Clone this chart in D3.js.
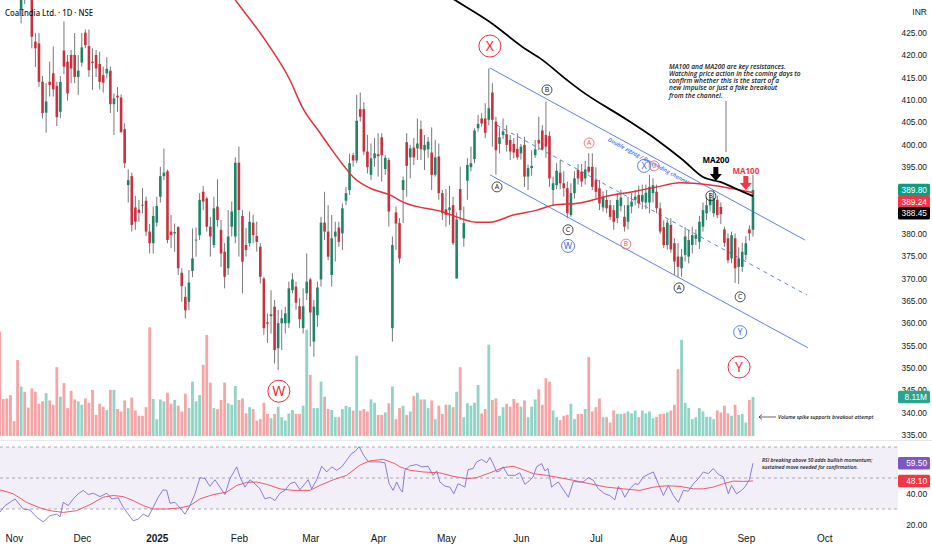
<!DOCTYPE html>
<html>
<head>
<meta charset="utf-8">
<script src="https://cdn.jsdelivr.net/npm/d3@7"></script>
<style>
  body { margin: 0; background: #fff; }
  svg { display: block; font-family: "Liberation Sans", "Noto Sans", sans-serif; }
</style>
</head>
<body>
<div id="chart"></div>
<script>
'use strict';

// daily candles [open, high, low, close], bar 0 = 28 Oct 2024
const ohlc = [
  // Oct
  [447, 451, 443, 445], [445, 448, 440, 442], [442, 446, 438, 440], [440, 444, 436, 438],
  // Nov
  [438, 441, 433.5, 436], [436, 439, 433, 435], [430.1, 436, 427.1, 434], [438, 439, 431.4, 434],
  [437, 439, 432.6, 434], [434, 435, 421.5, 424.1], [423.0, 424.9, 417.3, 421.5], [422.6, 424.9, 412.9, 414.0],
  [414.0, 415.3, 405.8, 407.0], [407.1, 413.7, 402.6, 409.6], [414.0, 418.5, 410.7, 413.3], [415.9, 421.9, 410.7, 412.3],
  [413.1, 414.0, 404.1, 406.1], [407.3, 415.3, 405.9, 414.0], [421.0, 427.5, 415.7, 417.4], [418.5, 420.0, 409.8, 411.4],
  [420.0, 421.1, 413.7, 417.0], [420.0, 424.9, 413.7, 415.1], [415.1, 420.0, 411.1, 416.5],
  // Dec
  [418.3, 424.9, 417.4, 421.7], [425.0, 425.7, 421.5, 422.2], [422.0, 425.7, 415.1, 416.6], [418.5, 421.5, 412.2, 418.2],
  [420.0, 421.1, 415.1, 417.0], [418.0, 420.7, 412.3, 414.0], [415.5, 417.4, 411.6, 413.8], [415.9, 419.5, 414.8, 416.9],
  [416.5, 417.4, 407.0, 409.0], [409.0, 411.4, 402.1, 410.3], [410.9, 412.8, 407.3, 410.5], [410.5, 411.2, 402.5, 402.8],
  [403.4, 404.7, 394.7, 395.8], [390.9, 394.4, 387.0, 392.0], [392.9, 393.7, 380.5, 382.0], [385.9, 388.5, 380.9, 382.7],
  [385.4, 387.6, 382.7, 384.7], [386.5, 390.2, 384.6, 386.3], [387.4, 388.3, 379.5, 380.5], [380.5, 382.2, 375.6, 377.9],
  [377.9, 386.1, 375.6, 384.0],
  // Jan
  [382.5, 388.3, 381.6, 386.2], [388.3, 395.0, 387.0, 392.9], [392.9, 399.1, 392.0, 393.7], [394.0, 394.4, 377.9, 378.6],
  [380.5, 384.2, 376.8, 379.7], [380.1, 382.3, 376.0, 380.4], [381.5, 381.7, 370.8, 372.3], [371.3, 372.3, 364.8, 368.3],
  [365.9, 368.2, 361.1, 362.9], [364.8, 371.9, 362.9, 369.1], [371.7, 381.2, 370.3, 374.5], [378.5, 381.4, 374.9, 378.7],
  [379.7, 389.1, 378.6, 387.6], [389.4, 390.7, 385.3, 387.2], [387.9, 388.3, 380.5, 381.6], [381.6, 383.8, 374.9, 379.4],
  [377.5, 388.3, 376.8, 385.7], [386.1, 392.2, 381.6, 383.1], [380.9, 383.1, 372.6, 375.6], [376.0, 377.9, 367.8, 370.4],
  [372.3, 385.3, 370.8, 379.4], [381.6, 387.2, 379.4, 385.0], [379.4, 397.1, 377.9, 395.9],
  // Feb
  [395.9, 399.5, 374.9, 385.3], [384.0, 385.3, 366.7, 373.8], [377.5, 381.3, 374.9, 376.4], [377.9, 385.0, 377.1, 382.7],
  [382.5, 384.3, 377.9, 379.7], [379.5, 382.7, 376.0, 378.2], [377.1, 377.9, 368.9, 370.4], [370.0, 370.4, 357.4, 358.9],
  [360.2, 362.2, 355.6, 359.9], [361.6, 367.4, 357.7, 362.0], [363.7, 365.2, 351.0, 354.0], [354.4, 363.0, 349.5, 360.0],
  [360.0, 363.0, 354.0, 361.1], [360.0, 363.7, 357.7, 362.2], [360.0, 369.3, 358.9, 367.8], [367.4, 371.2, 366.7, 369.8],
  [368.2, 369.3, 363.0, 364.6], [363.8, 365.6, 358.9, 360.9], [358.9, 367.8, 357.7, 363.8], [366.7, 375.6, 365.2, 369.3],
  // Mar
  [369.8, 370.2, 354.8, 362.4], [355.9, 365.2, 352.5, 363.7], [361.8, 369.3, 359.2, 368.0], [369.8, 383.8, 368.2, 382.5],
  [382.5, 389.4, 378.6, 380.5], [380.5, 386.4, 374.1, 374.9], [370.8, 384.2, 368.2, 379.0], [379.4, 382.7, 373.8, 380.5],
  [381.4, 382.7, 377.1, 378.2], [380.1, 386.8, 376.4, 385.7], [387.4, 390.5, 386.4, 389.1], [389.8, 397.9, 388.7, 395.8],
  [397.6, 398.1, 395.0, 396.4], [396.4, 411.1, 395.8, 405.3], [407.9, 411.6, 405.1, 406.2], [407.9, 409.4, 397.6, 398.4],
  [398.4, 402.1, 393.5, 394.9], [393.2, 400.2, 392.0, 396.9], [396.9, 401.4, 395.0, 398.0],
  // Apr
  [397.8, 402.5, 392.8, 397.4], [401.6, 402.5, 391.7, 397.6], [394.5, 397.6, 393.2, 397.0], [396.5, 397.0, 381.6, 385.0],
  [358.9, 379.4, 355.9, 377.5], [384.8, 386.1, 376.4, 382.3], [382.4, 383.5, 373.4, 374.5], [389.8, 392.8, 382.4, 392.0],
  [400.5, 402.5, 388.3, 395.2], [397.1, 399.9, 392.4, 399.1], [399.3, 401.4, 395.4, 397.1], [399.1, 405.8, 396.5, 400.2],
  [403.4, 405.3, 396.5, 398.9], [398.7, 402.1, 394.3, 399.9], [398.9, 401.6, 397.0, 400.6], [398.2, 403.8, 389.8, 393.2],
  [393.2, 401.0, 392.8, 397.1], [397.3, 400.2, 387.6, 389.1], [389.1, 389.8, 383.1, 384.6],
  // May
  [385.5, 390.0, 381.6, 384.2], [385.3, 390.7, 382.0, 385.9], [386.4, 388.3, 377.5, 377.9], [370.0, 384.8, 370.0, 383.2],
  [390.0, 395.0, 383.1, 385.3], [379.0, 386.1, 377.1, 382.4], [391.9, 396.9, 387.6, 395.4], [394.9, 399.5, 394.0, 395.8],
  [396.7, 403.6, 395.8, 403.1], [403.6, 406.6, 402.9, 404.6], [405.8, 407.0, 404.0, 404.7], [405.8, 409.2, 401.4, 402.6],
  [405.5, 417.0, 404.3, 408.1], [411.6, 413.7, 399.5, 405.5], [405.1, 406.2, 393.2, 398.7], [400.1, 403.8, 398.0, 401.6],
  [402.1, 405.8, 401.2, 402.9], [402.3, 404.3, 398.4, 399.9], [401.0, 402.1, 396.5, 398.4], [400.1, 401.4, 396.9, 398.2],
  [399.0, 402.5, 396.6, 397.1],
  // Jun
  [398.0, 400.1, 396.6, 399.5], [399.9, 401.7, 390.5, 392.8], [392.8, 395.5, 389.8, 394.7], [394.7, 398.7, 393.0, 395.2],
  [397.6, 401.0, 397.0, 398.9], [401.0, 406.2, 398.7, 400.2], [403.1, 404.3, 398.7, 398.9], [402.1, 409.6, 397.0, 399.5],
  [401.9, 402.9, 390.5, 392.4], [389.8, 392.8, 386.4, 391.3], [390.9, 395.8, 390.0, 394.1], [393.7, 396.5, 390.0, 391.3],
  [391.3, 394.0, 388.3, 390.2], [390.2, 391.7, 383.5, 384.6], [384.2, 391.3, 383.8, 389.1], [389.1, 394.0, 387.9, 392.4],
  [394.3, 395.6, 391.0, 392.4], [393.9, 395.6, 390.5, 391.7], [392.4, 396.3, 391.0, 394.4], [395.0, 398.0, 393.5, 393.9],
  [395.0, 398.0, 389.8, 390.5],
  // Jul
  [392.0, 394.9, 388.0, 389.4], [390.2, 392.0, 385.3, 386.8], [385.9, 389.5, 385.0, 388.3], [387.6, 389.8, 384.6, 385.7],
  [386.4, 387.6, 383.1, 383.8], [385.3, 386.4, 380.9, 382.7], [383.5, 389.1, 382.4, 387.6], [386.2, 389.9, 385.0, 388.1],
  [383.8, 386.4, 380.5, 381.6], [382.7, 388.3, 381.0, 386.4], [386.1, 389.1, 384.6, 387.2], [387.6, 389.8, 386.4, 388.3],
  [388.7, 390.8, 385.7, 386.8], [387.2, 391.0, 385.5, 388.7], [387.0, 391.0, 385.5, 389.2], [387.0, 393.2, 384.6, 390.5],
  [389.1, 392.4, 387.0, 390.9], [389.4, 391.0, 384.6, 385.7], [385.7, 387.0, 380.0, 380.5], [381.5, 383.0, 376.8, 377.5],
  [377.5, 383.2, 376.5, 382.5], [382.0, 383.5, 375.8, 376.5], [377.9, 379.0, 370.8, 373.8],
  // Aug
  [374.9, 377.9, 370.4, 372.6], [372.3, 376.6, 370.4, 374.9], [375.3, 381.5, 373.8, 379.4], [374.9, 380.9, 373.4, 378.6],
  [377.5, 381.6, 375.6, 379.7], [378.9, 381.0, 377.5, 379.7], [378.2, 384.0, 376.6, 382.7], [381.6, 387.0, 380.5, 385.3],
  [384.6, 388.3, 383.1, 386.4], [386.4, 389.1, 385.0, 387.9], [384.6, 389.8, 383.8, 388.0], [387.6, 388.5, 383.5, 384.2],
  [386.0, 387.0, 382.2, 384.4], [381.0, 381.6, 377.1, 378.0], [379.0, 380.1, 373.4, 374.1], [374.5, 380.5, 373.4, 379.7],
  [379.0, 380.1, 369.0, 372.3], [372.6, 377.0, 368.8, 374.5], [372.6, 378.0, 371.5, 376.0],
  // Sep
  [375.3, 379.5, 374.1, 377.9], [381.0, 381.9, 378.5, 380.1], [380.9, 393.2, 379.4, 389.8]
];

// volume per bar, millions
const volume = [
  21.7, 7.7, 7.8, 8.5, 3.1, 15.8, 10.3, 9.2, 5.9, 9.9,
  9.2, 6.7, 7.2, 8.9, 7.4, 6.5, 14.3, 8.2, 11.0, 5.8,
  9.4, 7.6, 7.2, 6.5, 7.8, 6.9, 9.6, 4.4, 6.7, 6.1,
  5.4, 9.6, 9.6, 5.6, 5.1, 7.4, 5.8, 8.0, 5.3, 4.2,
  4.2, 6.0, 22.6, 7.7, 3.5, 7.6, 7.2, 9.0, 6.7, 7.5,
  6.3, 5.1, 8.8, 5.8, 11.3, 7.2, 8.5, 14.8, 21.0, 11.1,
  5.8, 5.6, 7.5, 11.1, 6.8, 6.5, 10.4, 7.5, 7.8, 4.7,
  6.0, 5.6, 3.2, 3.5, 6.9, 4.6, 3.7, 4.6, 6.1, 3.9,
  3.2, 4.7, 5.4, 4.6, 4.6, 6.3, 22.1, 12.7, 5.8, 5.8,
  11.3, 8.2, 5.6, 5.4, 3.9, 3.9, 5.6, 6.3, 6.0, 5.3,
  16.7, 5.3, 5.6, 5.1, 7.6, 6.9, 4.4, 4.4, 4.9, 6.8,
  10.3, 3.5, 5.8, 6.3, 4.4, 5.1, 8.3, 9.0, 7.6, 7.6,
  5.8, 7.4, 3.5, 6.3, 4.6, 6.5, 6.5, 6.0, 9.2, 14.3,
  3.9, 6.8, 6.3, 6.9, 10.6, 4.7, 5.6, 19.0, 7.5, 7.8,
  4.2, 6.0, 6.7, 6.1, 7.7, 6.9, 6.1, 7.4, 3.9, 6.1,
  7.6, 9.7, 6.5, 12.0, 11.3, 5.3, 3.9, 3.3, 4.2, 4.4,
  6.7, 3.5, 4.6, 4.6, 5.6, 16.4, 5.1, 6.0, 7.8, 3.9,
  3.9, 2.8, 5.3, 4.6, 4.6, 4.7, 5.1, 4.7, 5.3, 3.9,
  5.3, 4.7, 5.1, 3.7, 4.0, 4.6, 4.6, 4.9, 5.3, 6.5,
  13.9, 20.0, 6.9, 5.8, 3.5, 3.9, 5.8, 5.1, 4.0, 4.0,
  3.5, 5.3, 4.9, 6.3, 4.7, 4.2, 6.5, 4.4, 4.6, 2.8,
  7.5, 8.11
];

// moving averages: [bar, value]
const ma100 = [
  [60, 438.8], [66, 432.3], [74.9, 422.7], [81.3, 414.4], [84.7, 408.4], [89.7, 402.6],
  [92.5, 399.4], [97.3, 394.3], [99, 392.7], [103.5, 390.3], [109.3, 388.7], [113, 387.1],
  [124.2, 384.9], [133.7, 382.6], [137.3, 382.6], [143.8, 384.2], [150.5, 385.3], [155, 386.4],
  [162.5, 386.9], [169, 388.2], [178.5, 389.6], [184.1, 390.5], [190.6, 391.4], [199, 390.9],
  [204.6, 390.2], [211, 389.24]
];
const ma200 = [
  [121, 435.5], [127.5, 432.3], [137.3, 427.4], [147.7, 421.1], [151.3, 419.3], [158.9, 414.4],
  [162.5, 412.2], [175.7, 405.5], [184.1, 401.0], [191.4, 396.5], [197, 392.7], [201.8, 391.6],
  [208.2, 389.4], [211, 388.45]
];

// RSI(14) and its moving average: [bar, value]
const rsi = [
  [0, 27.8], [1.5, 32.2], [4.3, 36.5], [6.6, 30.0], [8.5, 29.3], [10.4, 24.6], [12.2, 21.7],
  [14.1, 25.7], [16, 26.7], [16.9, 25.0], [17.8, 34.3], [19.2, 32.2], [20.6, 36.5], [22, 39.8],
  [23.4, 42.0], [24.8, 39.3], [26.2, 40.2], [28.1, 38.0], [30, 40.2], [31.4, 36.5], [33.2, 37.2],
  [34.6, 31.1], [36, 26.7], [37.4, 22.4], [38.8, 23.5], [40.2, 26.7], [41.6, 25.0], [43, 31.1],
  [44.4, 37.6], [45.8, 42.4], [46.8, 42.0], [47.7, 33.7], [49.1, 34.3], [50.5, 30.7], [51.9, 26.7],
  [53.3, 32.2], [54.7, 39.8], [56.1, 50.2], [57.5, 49.6], [58.9, 44.6], [60.3, 48.9], [61.7, 44.1],
  [63.1, 39.3], [64.5, 49.6], [66.4, 57.2], [67.3, 50.7], [68.7, 44.1], [70.1, 48.9], [71.5, 46.3],
  [72.9, 43.0], [74.3, 36.5], [75.7, 37.6], [77.1, 35.4], [78.5, 40.2], [79.9, 42.0], [81.3, 46.3],
  [82.7, 47.4], [84.1, 42.4], [85.5, 46.3], [86.4, 48.9], [87.4, 43.0], [88.8, 48.9], [90.2, 57.6],
  [91.6, 53.9], [93, 57.2], [94.4, 55.0], [95.8, 57.2], [97.2, 61.5], [98.6, 65.9], [99.5, 67.0],
  [100.7, 70.2], [101.9, 64.8], [103.3, 60.4], [104.7, 60.4], [106.5, 60.4], [107.9, 59.8],
  [109.1, 46.3], [110.2, 42.0], [111.2, 47.4], [112.1, 43.0], [112.8, 40.9], [113.5, 55.0],
  [114.9, 57.8], [116.8, 58.7], [118.2, 57.2], [120, 57.6], [121.4, 51.7], [122.4, 54.6],
  [123.3, 47.4], [124.7, 44.8], [126.1, 44.1], [127.2, 39.8], [128.4, 46.3], [129.4, 45.2],
  [130.3, 44.1], [131.2, 55.4], [132.6, 56.1], [133.6, 60.4], [135, 62.0], [136.4, 59.8],
  [137.3, 63.3], [138.2, 59.3], [139.2, 53.9], [140.1, 54.6], [141, 57.2], [142.4, 51.7],
  [144.3, 51.7], [145.7, 53.3], [147.1, 45.9], [148.5, 48.5], [149.4, 50.7], [150.4, 57.2],
  [151.8, 59.3], [152.7, 54.6], [153.6, 56.1], [154.6, 44.1], [155.5, 45.9], [156.5, 47.4],
  [157.9, 42.4], [159.3, 37.6], [160.7, 48.0], [162.1, 47.4], [163.4, 47.4], [164.9, 50.2],
  [166.3, 48.5], [167.7, 43.0], [169.5, 39.8], [170.9, 38.7], [172.3, 35.9], [173.3, 44.6],
  [174.2, 42.0], [175.1, 37.6], [176.5, 43.0], [177.9, 46.3], [178.9, 45.9], [180.3, 50.7],
  [181.7, 52.4], [183.1, 53.9], [184.5, 46.3], [185.9, 38.7], [187.3, 45.2], [188.7, 38.7],
  [190.1, 34.3], [191.5, 42.0], [192.9, 41.5], [194.3, 46.3], [195.7, 49.6], [197.1, 53.9],
  [198.5, 52.8], [199.9, 56.1], [201.3, 52.4], [202.7, 50.7], [204.1, 39.8], [205, 45.2],
  [206.4, 39.8], [207.8, 42.0], [208.7, 44.1], [210, 48.9], [211, 59.5]
];
const rsiMa = [
  [0, 42.4], [3.8, 39.8], [7.5, 34.3], [11.3, 30.7], [14.1, 28.9], [17.8, 27.8], [21.5, 28.9],
  [25.3, 32.8], [29, 37.6], [31.8, 38.7], [34.6, 38.0], [37.4, 35.4], [40.2, 32.2], [43, 30.0],
  [46.8, 30.0], [50.5, 30.7], [53.3, 32.2], [56.1, 36.5], [59.8, 39.3], [63.6, 40.9], [66.4, 45.2],
  [69.2, 47.2], [72, 47.4], [74.8, 45.9], [78.5, 43.0], [82.2, 42.0], [86.9, 42.0], [89.7, 45.2],
  [93.5, 48.9], [97.2, 51.7], [100.9, 58.3], [103.7, 61.1], [107.5, 62.0], [110.7, 59.3],
  [112.1, 57.2], [114.9, 55.0], [118.6, 53.9], [123.3, 53.3], [127, 51.1], [130.8, 49.6],
  [133.6, 50.2], [137.3, 53.3], [141, 56.7], [143.8, 57.6], [146.6, 55.4], [149.5, 52.8],
  [153.2, 51.7], [156.9, 50.2], [160.7, 48.5], [165.3, 46.3], [170, 44.1], [174.7, 43.0],
  [179.3, 42.0], [183.1, 44.1], [186.8, 45.0], [190.5, 44.6], [194.3, 43.0], [197.1, 43.0],
  [199.9, 44.1], [202.7, 46.3], [205.5, 48.0], [208.3, 47.8], [211, 48.1]
];

// time axis
const monthLabels = ['Nov', 'Dec', '2025', 'Feb', 'Mar', 'Apr', 'May', 'Jun', 'Jul', 'Aug', 'Sep', 'Oct'];
const monthBars = [4, 23, 44, 67, 87, 106, 125, 146, 167, 190, 209, 231];
const priceTicks = d3.range(335, 426, 5);
const rsiTicks = [20, 40, 60];

// descending channel, [bar, price] end points
const channelUpper = [[137.3, 417.1], [225.6, 378.6]];
const channelMid = [[139.3, 404.3], [226.1, 366.3]];
const channelLower = [[137.3, 393.2], [226.4, 354.5]];

// wave count labels
const waves = [
  {t: 'X', i: 137.3, p: 422.0, s: 'bigRed'},
  {t: 'W', i: 78.2, p: 344.8, s: 'bigRed'},
  {t: 'Y', i: 207.1, p: 350.2, s: 'bigRed'},
  {t: 'B', i: 153.3, p: 412.2, s: 'black'},
  {t: 'A', i: 139.3, p: 390.5, s: 'black'},
  {t: 'C', i: 159.2, p: 380.9, s: 'black'},
  {t: 'B', i: 199.2, p: 388.5, s: 'black'},
  {t: 'A', i: 190.3, p: 367.9, s: 'black'},
  {t: 'C', i: 207.4, p: 365.9, s: 'black'},
  {t: 'W', i: 159.2, p: 377.3, s: 'blue'},
  {t: 'X', i: 180.5, p: 395.2, s: 'blue'},
  {t: 'Y', i: 207.4, p: 358.0, s: 'blue'},
  {t: 'A', i: 165.1, p: 400.3, s: 'red'},
  {t: 'C', i: 183.3, p: 395.2, s: 'red'},
  {t: 'B', i: 175.4, p: 377.7, s: 'red'}
];
const waveStyle = {
  bigRed: {r: 11, color: '#e5303d', size: 14, width: 1},
  black:  {r: 5,  color: '#1e1e1e', size: 7,  width: 0.8},
  blue:   {r: 6.5, color: '#4d6fe3', size: 9, width: 0.9},
  red:    {r: 5,  color: '#f0586a', size: 6.5, width: 0.8}
};

const noteLines = [
  'MA100 and MA200 are key resistances.',
  'Watching price action in the coming days to',
  'confirm whether this is the start of a',
  'new impulse or just a fake breakout',
  'from the channel.'
];
const rsiNote = ['RSI breaking above 50 adds bullish momentum;', 'sustained move needed for confirmation.'];

window.addEventListener('load', () => {
    const W = 932, H = 550, plotRight = 898;
    const up = '#1f8467', down = '#c8323e';

    const svg = d3.select('#chart').append('svg')
        .attr('width', W).attr('height', H);

    // scales
    const x = d3.scaleLinear().domain([0, 231]).range([-0.3, -0.3 + 3.57 * 231]);
    const y = d3.scaleLinear().domain([335, 420]).range([435, 55]);
    const yVol = d3.scaleLinear().domain([0, 8.11]).range([436, 397]);
    const yRsi = d3.scaleLinear().domain([30, 70]).range([509, 447]);

    const defs = svg.append('defs');
    defs.append('clipPath').attr('id', 'mainClip')
        .append('rect').attr('x', 0).attr('y', 0).attr('width', plotRight).attr('height', 440);
    defs.append('clipPath').attr('id', 'rsiClip')
        .append('rect').attr('x', 0).attr('y', 441).attr('width', plotRight).attr('height', 88);

    // pane separator
    svg.append('line').attr('x1', 0).attr('x2', W).attr('y1', 440.5).attr('y2', 440.5)
        .attr('stroke', '#e6e8ee');

    const main = svg.append('g').attr('clip-path', 'url(#mainClip)');

    // volume
    main.append('g').selectAll('rect')
      .data(volume)
      .join('rect')
        .attr('x', (d, i) => x(i) - 1.4)
        .attr('width', 2.8)
        .attr('y', d => yVol(d))
        .attr('height', d => yVol(0) - yVol(d))
        .attr('fill', (d, i) => ohlc[i][3] >= ohlc[i][0] ? '#8fd4c6' : '#f6a5a6');

    // channel
    const seg = pts => d3.line().x(d => x(d[0])).y(d => y(d[1]))(pts);
    main.append('path').attr('d', seg(channelUpper)).attr('stroke', '#5f82e8').attr('fill', 'none');
    main.append('path').attr('d', seg(channelLower)).attr('stroke', '#5f82e8').attr('fill', 'none');
    main.append('path').attr('d', seg(channelMid)).attr('stroke', '#5f82e8').attr('fill', 'none')
        .attr('stroke-dasharray', '4,4');

    // channel caption just under the upper line
    const ux1 = x(channelUpper[0][0]), uy1 = y(channelUpper[0][1]);
    const ux2 = x(channelUpper[1][0]), uy2 = y(channelUpper[1][1]);
    const ang = Math.atan2(uy2 - uy1, ux2 - ux1) * 180 / Math.PI;
    const cx = x(182.5), cy = uy1 + (cx - ux1) * (uy2 - uy1) / (ux2 - ux1);
    main.append('text')
        .attr('transform', `translate(${cx},${cy}) rotate(${ang})`)
        .attr('text-anchor', 'middle').attr('dy', 7.5)
        .attr('font-family', 'Open Sans, sans-serif')
        .attr('font-size', 5.6).attr('font-style', 'italic').attr('font-weight', 600)
        .attr('fill', '#4d6fe3')
        .text('Double zigzag / Descending channel');

    // candles
    const candles = main.append('g').selectAll('g')
      .data(ohlc)
      .join('g');
    candles.append('line')
        .attr('x1', (d, i) => x(i)).attr('x2', (d, i) => x(i))
        .attr('y1', d => y(d[1])).attr('y2', d => y(d[2]))
        .attr('stroke', '#787878').attr('stroke-width', 1);
    candles.append('rect')
        .attr('x', (d, i) => x(i) - 1.3)
        .attr('width', 2.6)
        .attr('y', d => y(Math.max(d[0], d[3])))
        .attr('height', d => Math.max(0.8, Math.abs(y(d[0]) - y(d[3]))))
        .attr('fill', d => d[3] >= d[0] ? up : down);

    // moving averages
    const maLine = d3.line().x(d => x(d[0])).y(d => y(d[1])).curve(d3.curveMonotoneX);
    main.append('path').attr('d', maLine(ma100)).attr('fill', 'none')
        .attr('stroke', '#e3303c').attr('stroke-width', 1.5);
    main.append('path').attr('d', maLine(ma200)).attr('fill', 'none')
        .attr('stroke', '#000').attr('stroke-width', 1.8);

    // wave labels
    const wl = main.append('g').selectAll('g')
      .data(waves)
      .join('g')
        .attr('transform', d => `translate(${x(d.i)},${y(d.p)})`);
    wl.append('circle')
        .attr('r', d => waveStyle[d.s].r)
        .attr('fill', 'none')
        .attr('stroke', d => waveStyle[d.s].color)
        .attr('stroke-width', d => waveStyle[d.s].width);
    wl.append('text')
        .attr('text-anchor', 'middle')
        .attr('dy', '0.36em')
        .attr('font-family', 'Noto Sans, sans-serif')
        .attr('font-size', d => waveStyle[d.s].size)
        .attr('fill', d => waveStyle[d.s].color)
        .text(d => d.t);

    // MA markers with block arrows
    const arrow = (cxp, top, color) => {
        const p = d3.path();
        p.moveTo(cxp - 2.5, top); p.lineTo(cxp + 2.5, top); p.lineTo(cxp + 2.5, top + 7);
        p.lineTo(cxp + 6, top + 7); p.lineTo(cxp, top + 14); p.lineTo(cxp - 6, top + 7);
        p.lineTo(cxp - 2.5, top + 7); p.closePath();
        main.append('path').attr('d', p.toString()).attr('fill', color);
    };
    const ma200x = x(200.6), ma100x = x(209);
    main.append('text').attr('x', ma200x).attr('y', 163).attr('text-anchor', 'middle')
        .attr('font-family', 'Noto Sans, sans-serif')
        .attr('font-size', 8).attr('font-weight', 'bold').attr('fill', '#000').text('MA200');
    arrow(ma200x, 167, '#000');
    main.append('text').attr('x', ma100x).attr('y', 174).attr('text-anchor', 'middle')
        .attr('font-family', 'Noto Sans, sans-serif')
        .attr('font-size', 8).attr('font-weight', 'bold').attr('fill', '#f23645').text('MA100');
    arrow(ma100x, 176, '#f23645');

    // note and its pointer
    main.append('line').attr('x1', 726).attr('x2', 726).attr('y1', 101).attr('y2', 152)
        .attr('stroke', '#555').attr('stroke-width', 0.8);
    main.append('g').selectAll('text')
      .data(noteLines)
      .join('text')
        .attr('x', 669).attr('y', (d, i) => 68.5 + i * 7.3)
        .attr('font-family', 'Open Sans, sans-serif')
        .attr('font-size', 6.6).attr('font-style', 'italic').attr('font-weight', 600)
        .attr('fill', '#131722')
        .text(d => d);

    // volume note
    svg.append('path').attr('d', 'M776,417 H759 M762,414.5 L759,417 L762,419.5')
        .attr('stroke', '#222').attr('stroke-width', 0.7).attr('fill', 'none');
    svg.append('text').attr('x', 778).attr('y', 419)
        .attr('font-family', 'Open Sans, sans-serif')
        .attr('font-size', 5.1).attr('font-style', 'italic').attr('font-weight', 600)
        .attr('fill', '#131722').text('Volume spike supports breakout attempt');

    // RSI pane
    const rsiG = svg.append('g').attr('clip-path', 'url(#rsiClip)');
    rsiG.append('rect')
        .attr('x', 0).attr('width', plotRight)
        .attr('y', yRsi(70)).attr('height', yRsi(30) - yRsi(70))
        .attr('fill', '#f2eff9');
    rsiG.selectAll('line.band')
      .data([70, 50, 30])
      .join('line')
        .attr('x1', 0).attr('x2', plotRight)
        .attr('y1', d => yRsi(d)).attr('y2', d => yRsi(d))
        .attr('stroke', '#9598a1').attr('stroke-width', 0.8)
        .attr('stroke-dasharray', '3,3');
    const rsiLine = d3.line().x(d => x(d[0])).y(d => yRsi(d[1]));
    rsiG.append('path').attr('d', rsiLine(rsiMa)).attr('fill', 'none')
        .attr('stroke', '#f05a66').attr('stroke-width', 1);
    rsiG.append('path').attr('d', rsiLine(rsi)).attr('fill', 'none')
        .attr('stroke', '#7e6fd6').attr('stroke-width', 0.9);
    rsiG.append('g').selectAll('text')
      .data(rsiNote)
      .join('text')
        .attr('x', 762).attr('y', (d, i) => 462 + i * 6.5)
        .attr('font-family', 'Open Sans, sans-serif')
        .attr('font-size', 5.1).attr('font-style', 'italic').attr('font-weight', 600)
        .attr('fill', '#131722')
        .text(d => d);

    // price axis
    svg.append('g')
        .attr('transform', 'translate(927,0)')
        .call(d3.axisLeft(y).tickValues(priceTicks).tickFormat(d3.format('.2f')).tickSize(0).tickPadding(0))
        .call(g => g.select('.domain').remove())
        .call(g => g.selectAll('text').attr('font-size', 8.3).attr('fill', '#131722')
            .attr('font-family', null));
    svg.append('g')
        .attr('transform', 'translate(927,0)')
        .call(d3.axisLeft(yRsi).tickValues(rsiTicks).tickFormat(d3.format('.2f')).tickSize(0).tickPadding(0))
        .call(g => g.select('.domain').remove())
        .call(g => g.selectAll('text').attr('font-size', 8.3).attr('fill', '#131722')
            .attr('font-family', null));
    svg.append('text').attr('x', 927).attr('y', 15).attr('text-anchor', 'end')
        .attr('font-size', 8.5).attr('fill', '#131722').text('INR');

    // time axis
    svg.append('g')
        .attr('transform', 'translate(0,529)')
        .call(d3.axisBottom(x).tickValues(monthBars).tickFormat((d, i) => monthLabels[i]).tickSize(0).tickPadding(6))
        .call(g => g.select('.domain').remove())
        .call(g => g.selectAll('text').attr('font-size', 10).attr('fill', '#131722')
            .attr('font-family', null)
            .attr('font-weight', (d, i) => monthLabels[i] === '2025' ? 'bold' : null));

    // last value tags
    const tag = (yy, label, fill) => {
        svg.append('rect').attr('x', 898).attr('y', yy - 6.3).attr('width', 32).attr('height', 12.6)
            .attr('rx', 1.5).attr('fill', fill);
        svg.append('text').attr('x', 927).attr('y', yy + 3).attr('text-anchor', 'end')
            .attr('font-size', 8.3).attr('fill', '#fff').text(label);
    };
    const last = ohlc[ohlc.length - 1][3];
    const yClose = y(last);
    tag(yClose, last.toFixed(2), '#0f9c84');
    tag(Math.max(y(ma100[ma100.length - 1][1]), yClose + 11.6), ma100[ma100.length - 1][1].toFixed(2), '#f23645');
    tag(Math.max(y(ma200[ma200.length - 1][1]), yClose + 23.2), ma200[ma200.length - 1][1].toFixed(2), '#000');
    tag(yVol(volume[volume.length - 1]), volume[volume.length - 1].toFixed(2) + 'M', '#26a592');
    tag(yRsi(rsi[rsi.length - 1][1]), rsi[rsi.length - 1][1].toFixed(2), '#7e57c2');
    tag(yRsi(rsiMa[rsiMa.length - 1][1]), rsiMa[rsiMa.length - 1][1].toFixed(2), '#f23645');

    // title
    svg.append('text').attr('x', 5).attr('y', 15.5)
        .attr('font-family', 'Noto Sans, sans-serif')
        .attr('font-size', 9.5).attr('font-weight', 500).attr('fill', '#131722')
        .attr('textLength', 88).attr('lengthAdjust', 'spacingAndGlyphs')
        .text('CoalIndia Ltd. · 1D · NSE');
});
</script>
</body>
</html>
